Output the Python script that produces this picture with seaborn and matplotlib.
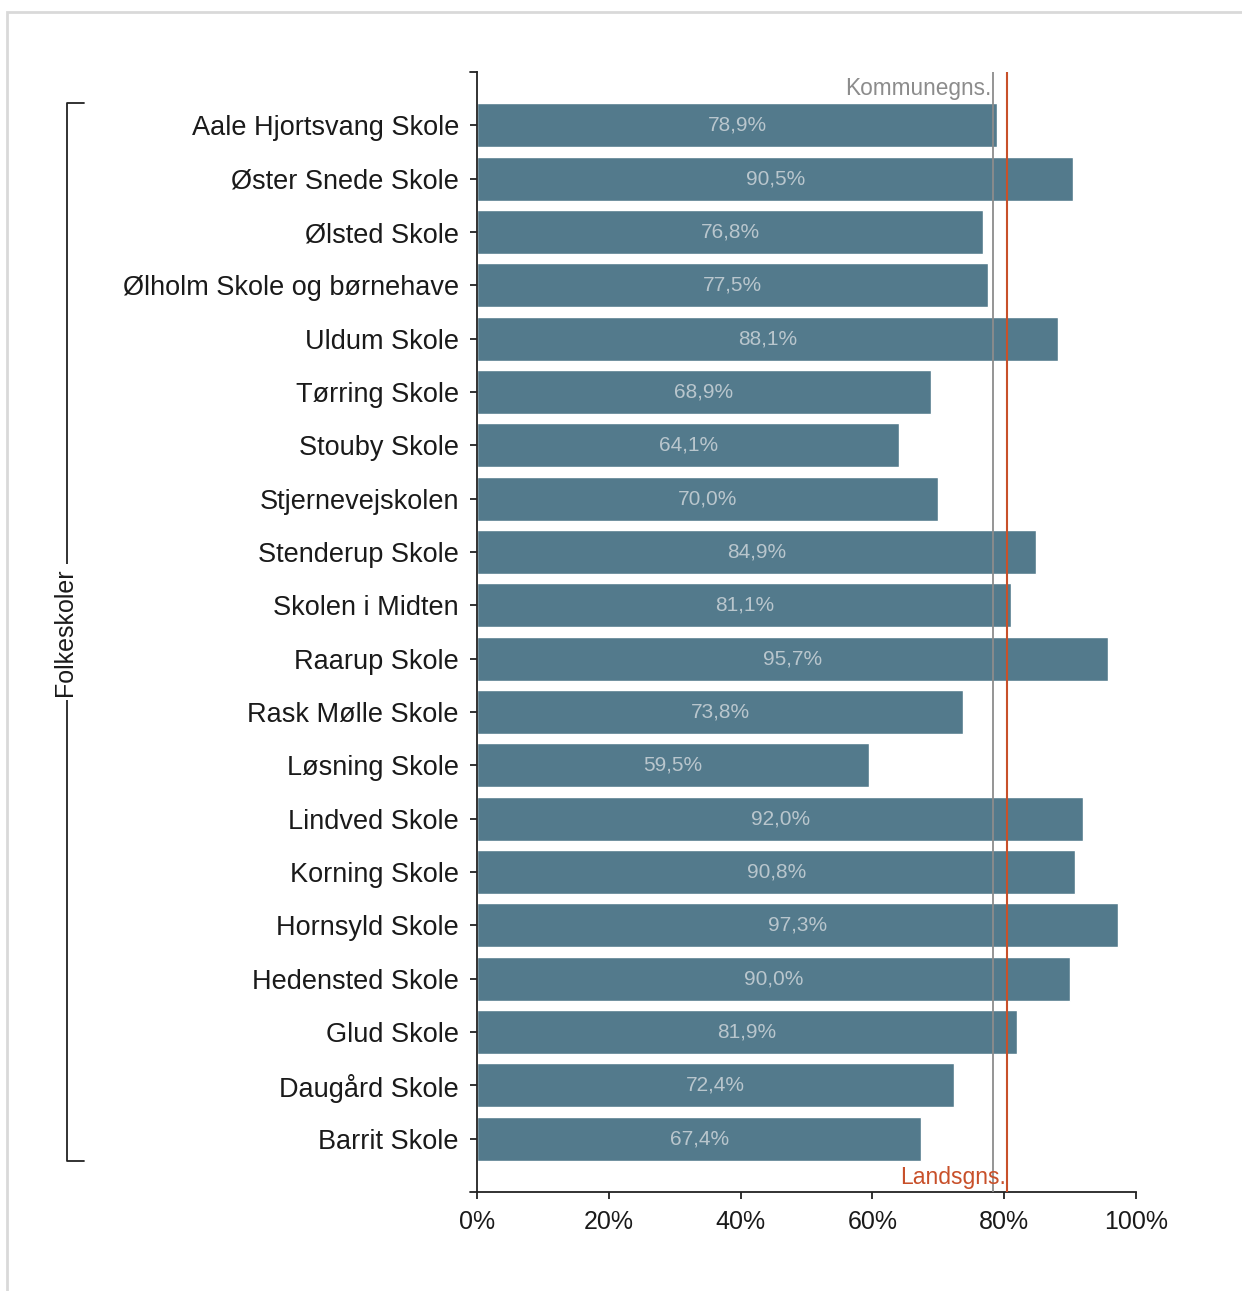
import matplotlib
matplotlib.use("Agg")
import matplotlib.pyplot as plt
import matplotlib.transforms as mtransforms
from matplotlib.patches import Rectangle
import seaborn as sns
import pandas as pd

# Data (top to bottom)
schools = [
    "Aale Hjortsvang Skole", "Øster Snede Skole", "Ølsted Skole",
    "Ølholm Skole og børnehave", "Uldum Skole", "Tørring Skole",
    "Stouby Skole", "Stjernevejskolen", "Stenderup Skole", "Skolen i Midten",
    "Raarup Skole", "Rask Mølle Skole", "Løsning Skole", "Lindved Skole",
    "Korning Skole", "Hornsyld Skole", "Hedensted Skole", "Glud Skole",
    "Daugård Skole", "Barrit Skole",
]
values = [78.9, 90.5, 76.8, 77.5, 88.1, 68.9, 64.1, 70.0, 84.9, 81.1,
          95.7, 73.8, 59.5, 92.0, 90.8, 97.3, 90.0, 81.9, 72.4, 67.4]
kommune_avg = 78.3
lands_avg = 80.5
group_label = "Folkeskoler"
x_ticks = [0, 20, 40, 60, 80, 100]

df = pd.DataFrame({"skole": schools, "andel": values})

sns.set_style("white")
plt.rcParams["font.family"] = ["Liberation Sans", "DejaVu Sans"]

fig = plt.figure(figsize=(12.42, 12.91), dpi=100)
fig.patches.append(Rectangle((7 / 1242, -0.01), 1.1, 1 - 12 / 1291 + 0.01,
                             transform=fig.transFigure, fill=False,
                             edgecolor="#d9d9d9", linewidth=2, zorder=0))
ax = fig.add_axes([477 / 1242, 1 - 1192 / 1291, (1136 - 477) / 1242, 1120 / 1291])

bar_color = "#537a8c"
sns.barplot(data=df, x="andel", y="skole", orient="h", color=bar_color,
            saturation=1, width=0.82, ax=ax)

ax.set_xlim(0, 100)
ax.set_ylim(20, -1)
ax.set_xlabel("")
ax.set_ylabel("")

for i, v in enumerate(values):
    ax.text(v / 2, i, f"{v:.1f}%".replace(".", ","), ha="center", va="center",
            color="#b9c6cd", fontsize=15)

# reference lines
ax.axvline(kommune_avg, color="#8c8c8c", linewidth=1.3, zorder=3)
ax.axvline(lands_avg, color="#c8502a", linewidth=1.5, zorder=3)
ax.text(kommune_avg - 0.2, -0.7, "Kommunegns.", ha="right", va="center",
        color="#8c8c8c", fontsize=16.3)
ax.text(lands_avg - 0.2, 19.72, "Landsgns.", ha="right", va="center",
        color="#c8502a", fontsize=16.5)

# axes styling
for side in ["top", "right"]:
    ax.spines[side].set_visible(False)
for side in ["left", "bottom"]:
    ax.spines[side].set_color("#222222")
    ax.spines[side].set_linewidth(1.3)
ax.set_xticks(x_ticks)
ax.set_xticklabels([f"{t}%" for t in x_ticks])
ax.tick_params(axis="both", direction="out", length=5, width=1.3,
               color="#222222", labelcolor="#1a1a1a", labelsize=18)
ax.tick_params(axis="y", pad=8, left=True, labelsize=19.5)
ax.tick_params(axis="x", pad=8, bottom=True)

# outer ticks at the ends of the y axis
ax.plot([-0.0106, 0], [1, 1], transform=ax.transAxes, color="#222222",
        linewidth=1.3, clip_on=False)
ax.plot([-0.0106, 0], [0, 0], transform=ax.transAxes, color="#222222",
        linewidth=1.3, clip_on=False)

# group bracket on the left
trans = mtransforms.blended_transform_factory(fig.transFigure, ax.transData)
bx0, bx1 = 67 / 1242, 84 / 1242
top, bot = -0.41, 19.41
fig.lines.append(plt.Line2D([bx1, bx0, bx0, bx1], [top, top, bot, bot],
                            transform=trans, color="#222222", linewidth=1.3))
fig.text(bx0 - 0.002, 9.5, group_label, transform=trans, rotation=90, ha="center",
         va="center", fontsize=18, color="#1a1a1a",
         bbox=dict(facecolor="white", edgecolor="none", pad=3))

fig.savefig("out.png", dpi=100)
